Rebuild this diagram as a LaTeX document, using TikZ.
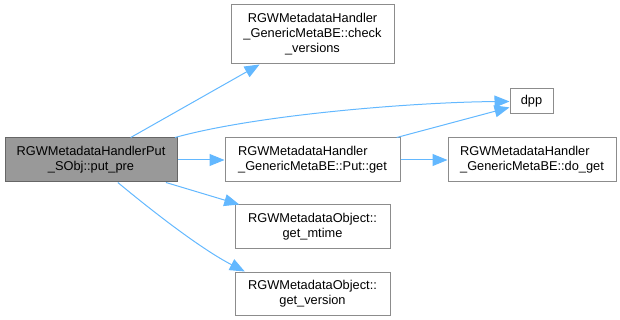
\documentclass[tikz,border=0pt]{standalone}
\usepackage{fontspec}
\setmainfont{Liberation Sans}
\usetikzlibrary{arrows.meta, positioning}
\definecolor{edgeblue}{HTML}{63B8FF}
\definecolor{rootfill}{HTML}{999999}
\definecolor{rootline}{HTML}{666666}
\definecolor{boxline}{HTML}{8C8C8C}
\newcommand\midx{312.5}
\newcommand\farx{532}

\begin{document}
\begin{tikzpicture}[x=1pt, y=-1pt,
    fn/.style={rectangle, draw=boxline, fill=white, line width=1pt, inner sep=0pt,
               align=center, font=\fontsize{12.8}{15}\selectfont},
    call/.style={draw=edgeblue, line width=1pt, -{Triangle[length=15pt, width=12pt]}}]

    \useasboundingbox (0, 0) rectangle (620, 320);

    % Caller
    \node at (91, 160) [fn, fill=rootfill, draw=rootline, minimum width=172pt, minimum height=44pt] (put_pre) {RGWMetadataHandlerPut\\\_SObj::put\_pre};

    % Callees, middle column
    \node at (\midx, 34.5) [fn, minimum width=163pt, minimum height=59pt] (check) {RGWMetadataHandler\\\_GenericMetaBE::check\\\_versions};
    \node at (\midx, 160) [fn, align=left, minimum width=175pt, minimum height=44pt] (put_get) {RGWMetadataHandler\\\_GenericMetaBE::Put::get};
    \node at (\midx, 226.5) [fn, minimum width=155pt, minimum height=43pt] (mtime) {RGWMetadataObject::\\get\_mtime};
    \node at (\midx, 293.5) [fn, minimum width=155pt, minimum height=43pt] (version) {RGWMetadataObject::\\get\_version};

    % Right column
    \node at (531.5, 101.5) [fn, minimum width=43pt, minimum height=25pt] (dpp) {dpp};
    \node at (\farx, 160) [fn, align=left, minimum width=168pt, minimum height=44pt] (do_get) {RGWMetadataHandler\\\_GenericMetaBE::do\_get};

    \draw [call] (put_pre) -- (check);
    \draw [call] (put_pre.15) .. controls (260, 114) and (420, 102) .. (dpp.west);
    \draw [call] (put_pre) -- (put_get);
    \draw [call] (put_pre) -- (mtime);
    \draw [call] (put_pre.-40) .. controls (157, 215) and (203, 250) .. (version.162);

    \draw [call] (put_get) -- (dpp);
    \draw [call] (put_get) -- (do_get);

\end{tikzpicture}
\end{document}
